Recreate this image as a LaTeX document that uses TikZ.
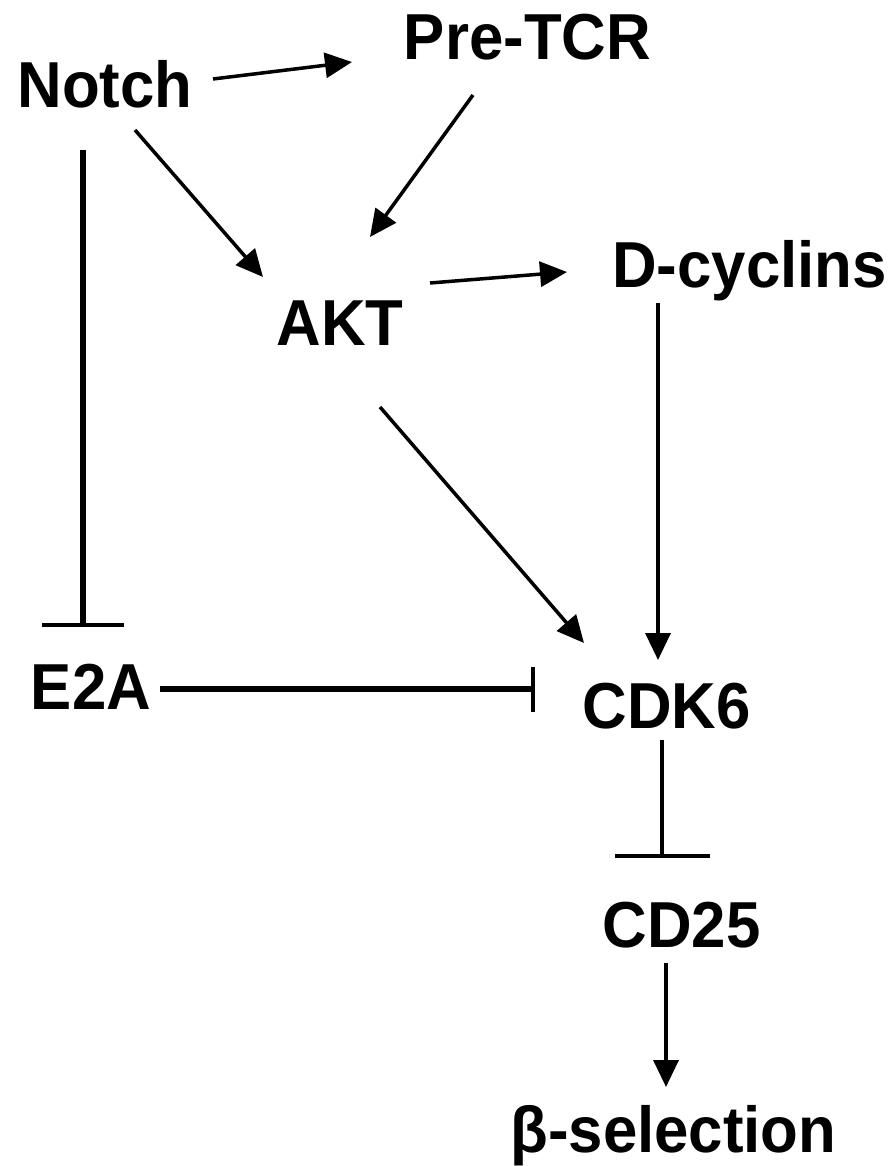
\documentclass[tikz,border=0pt]{standalone}
\usepackage{fontspec}
\setmainfont[FakeStretch=0.95]{Liberation Sans}
\usetikzlibrary{arrows.meta}
\begin{document}
\begin{tikzpicture}[x=1pt,y=-1pt,
  lbl/.style={inner sep=0pt,anchor=base,font=\fontsize{65}{70}\selectfont\bfseries},
  act/.style={line width=3.5pt,-{Triangle[length=27pt,width=25pt]}},
  inh/.style={line width=#1},
  inh/.default=4.5pt]
\useasboundingbox (0,0) rectangle (894,1166);
\fill[white] (0,0) rectangle (894,1166);
\node[lbl] (notch) at (105,108) {Notch};
\node[lbl] (pretcr) at (527.5,60) {Pre-TCR};
\node[lbl] (akt) at (340,345) {AKT};
\node[lbl] (dcyc) at (749.5,287) {D-cyclins};
\node[lbl] (e2a) at (91,709) {E2A};
\node[lbl] (cdk6) at (666.5,728) {CDK6};
\node[lbl] (cd25) at (681.5,947) {CD25};
\node[lbl] (beta) at (673.5,1152) {β-selection};
% activations
\draw[act] ([shift={(108,-29)}]notch.base) -- ([shift={(-175.5,2)}]pretcr.base);
\draw[act] ([shift={(30,22)}]notch.base) -- ([shift={(-77,-68)}]akt.base);
\draw[act] ([shift={(-54.5,35)}]pretcr.base) -- ([shift={(30,-108)}]akt.base);
\draw[act] ([shift={(90,-62)}]akt.base) -- ([shift={(-182.5,-15)}]dcyc.base);
\draw[act] ([shift={(-91.5,16)}]dcyc.base) -- ([shift={(-8.5,-68)}]cdk6.base);
\draw[act] ([shift={(40,62)}]akt.base) -- ([shift={(-82.5,-85)}]cdk6.base);
\draw[act] ([shift={(-15.5,16)}]cd25.base) -- ([shift={(-7.5,-65)}]beta.base);
% inhibitions
\draw[inh=5.5pt,-{Bar[width=82pt,line width=4pt]}] ([shift={(-22,42)}]notch.base) -- ([shift={(-8,-82)}]e2a.base);
\draw[inh=5.5pt,-{Bar[width=45pt,line width=4pt]}] ([shift={(69,-20)}]e2a.base) -- ([shift={(-131.5,-39)}]cdk6.base);
\draw[inh=4pt,-{Bar[width=95pt,line width=4pt]}] ([shift={(-4.5,12)}]cdk6.base) -- ([shift={(-19.5,-89)}]cd25.base);
\end{tikzpicture}
\end{document}
